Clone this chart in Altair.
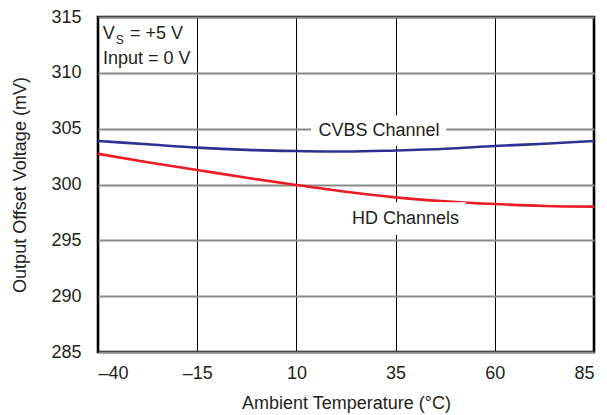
import json
import altair as alt
import pandas as pd

# ---- data ----
temps = [-40, -27.5, -15, -2.5, 10, 22.5, 35, 47.5, 60, 72.5, 85]
cvbs = [303.9, 303.6, 303.3, 303.1, 303.0, 302.95, 303.05, 303.2, 303.45, 303.65, 303.9]
hd = [302.75, 302.0, 301.3, 300.6, 299.95, 299.35, 298.85, 298.5, 298.25, 298.08, 298.02]

x_ticks = [-40, -15, 10, 35, 60, 85]
x_tick_labels = ["–40", "–15", "10", "35", "60", "85"]
y_ticks = [285, 290, 295, 300, 305, 310, 315]

series_names = ["CVBS Channel", "HD Channels"]
series_colors = ["#2e3192", "#ed1c24"]

# annotation text and anchor positions (data units)
label_text = ["CVBS Channel", "HD Channels"]
label_t = [30.8, 37.5]
label_v = [304.82, 296.87]
# white knock-out boxes behind the labels
box_t1 = [13.7, 22.2]
box_t2 = [47.7, 52.7]
box_v1 = [303.46, 295.47]
box_v2 = [306.21, 298.4]

cond_main = ["V", " = +5 V", "Input = 0 V"]
cond_t = [-38.8, -31.94, -38.74]
cond_v = [313.45, 313.45, 311.25]
cond_sub = ["S"]
cond_sub_t = [-35.54]
cond_sub_v = [312.95]

FONT = "Liberation Sans"

df = pd.DataFrame({
    "t": temps * 2,
    "v": cvbs + hd,
    "s": [series_names[0]] * len(temps) + [series_names[1]] * len(temps),
})

xs = alt.Scale(domain=[-40, 85], nice=False, zero=False)
ys = alt.Scale(domain=[285, 315], nice=False, zero=False)

label_expr = f"{json.dumps(x_tick_labels, ensure_ascii=False)}[indexof({json.dumps(x_ticks)}, datum.value)]"

base_x = alt.X("t:Q", scale=xs, title="Ambient Temperature (°C)",
               axis=alt.Axis(values=x_ticks, labelExpr=label_expr, ticks=False, domain=False,
                             grid=True, gridColor="#000000", gridWidth=1,
                             labelPadding=12, labelFontSize=18, labelColor="#231f20",
                             titleFontSize=18, titleFontWeight="normal", titleColor="#231f20",
                             titleY=51, titleBaseline="middle", labelFont=FONT, titleFont=FONT))
base_y = alt.Y("v:Q", scale=ys, title="Output Offset Voltage (mV)",
               axis=alt.Axis(values=y_ticks, ticks=False, domain=False,
                             grid=True, gridColor="#8a8a8a", gridWidth=1.8,
                             labelPadding=17, labelFontSize=18, labelColor="#231f20",
                             titleFontSize=18, titleFontWeight="normal", titleColor="#231f20",
                             titleX=-78, titleBaseline="middle", labelFont=FONT, titleFont=FONT))

lines = alt.Chart(df).mark_line(strokeWidth=2.6, interpolate="monotone").encode(
    x=base_x, y=base_y,
    color=alt.Color("s:N", scale=alt.Scale(domain=series_names, range=series_colors), legend=None),
)

boxes_df = pd.DataFrame({"t1": box_t1, "t2": box_t2, "v1": box_v1, "v2": box_v2})
boxes = alt.Chart(boxes_df).mark_rect(color="white").encode(
    x=alt.X("t1:Q", scale=xs), x2="t2:Q",
    y=alt.Y("v1:Q", scale=ys), y2="v2:Q",
)

labels_df = pd.DataFrame({"text": label_text, "t": label_t, "v": label_v})
labels = alt.Chart(labels_df).mark_text(font=FONT, fontSize=18, color="#231f20",
                                         align="center", baseline="middle").encode(
    x=alt.X("t:Q", scale=xs), y=alt.Y("v:Q", scale=ys), text="text:N")

cond_df = pd.DataFrame({"text": cond_main, "t": cond_t, "v": cond_v})
cond = alt.Chart(cond_df).mark_text(font=FONT, fontSize=18, color="#231f20",
                                     align="left", baseline="middle").encode(
    x=alt.X("t:Q", scale=xs), y=alt.Y("v:Q", scale=ys), text="text:N")

sub_df = pd.DataFrame({"text": cond_sub, "t": cond_sub_t, "v": cond_sub_v})
sub = alt.Chart(sub_df).mark_text(font=FONT, fontSize=12, color="#231f20",
                                   align="left", baseline="middle").encode(
    x=alt.X("t:Q", scale=xs), y=alt.Y("v:Q", scale=ys), text="text:N")

chart = alt.layer(lines, boxes, labels, cond, sub).properties(
    width=496, height=335,
    autosize=alt.AutoSizeParams(type="none"),
    padding={"left": 90, "top": 9, "right": 5, "bottom": 63},
    background="white",
).configure_view(stroke="#000000", strokeWidth=2.6)

chart.save("out.html", embed_options={"renderer": "svg", "actions": False})
